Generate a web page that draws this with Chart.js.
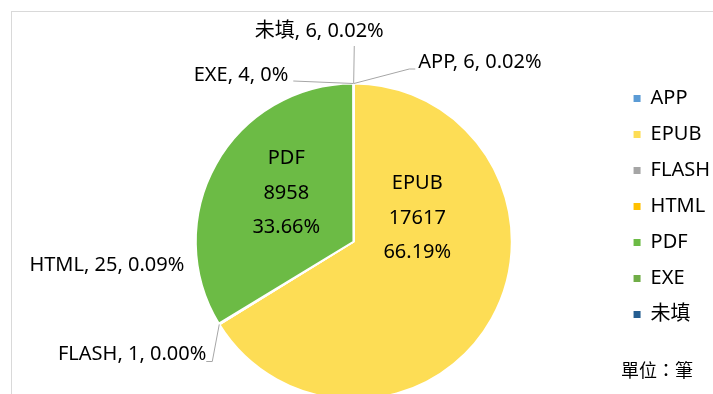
<!DOCTYPE html>
<html>
<head>
<meta charset="utf-8">
<script src="https://cdn.jsdelivr.net/npm/chart.js@4.4.0/dist/chart.umd.min.js"></script>
<style>
  html, body { margin: 0; padding: 0; background: #fff; overflow: hidden; }
  #contenedor { position: relative; width: 713px; height: 394px; overflow: hidden; }
  #marco { position: absolute; left: 11px; top: 11px; width: 760px; height: 450px; border: 1px solid #d9d9d9; }
  #grafica { position: absolute; left: 0; top: 0; }
</style>
</head>
<body>
<div id="contenedor">
  <div id="marco"></div>
  <canvas id="grafica" width="713" height="420"></canvas>
</div>
<script>
// Datos: formatos de archivo
const categorias = ["APP", "EPUB", "FLASH", "HTML", "PDF", "EXE", "未填"];
const cantidades = [6, 17617, 1, 25, 8958, 4, 6];
const porcentajes = ["0.02%", "66.19%", "0.00%", "0.09%", "33.66%", "0%", "0.02%"];
const unidad = "單位：筆";

const colores = ["#5b9bd5", "#fddd55", "#a5a5a5", "#ffc000", "#6cbb45", "#70ad47", "#255e91"];
const fuente = "'Noto Sans', 'Noto Sans CJK TC', sans-serif";

// Ubicación de cada etiqueta respecto al centro del pastel (px)
const ubicaciones = [
  { dx: 64.5, dy: -179, align: "left", guia: [[55.5, -172.5], [61.5, -172.5]] },
  { dentro: true, dx: 63.5, dy: -23.5 },
  { dx: -147.5, dy: 113, align: "right", guia: [[-141.5, 120], [-147.5, 120]] },
  { dx: -169.5, dy: 23.5, align: "right" },
  { dentro: true, dx: -67.5, dy: -48.5 },
  { dx: -65.5, dy: -166.5, align: "right", guia: [[-60.5, -160.5]] },
  { dx: -34.5, dy: -210, align: "center", guia: [[0.5, -195.5]] }
];

const etiquetasPlugin = {
  id: "etiquetas",
  afterDatasetsDraw(chart) {
    const ctx = chart.ctx;
    const arcos = chart.getDatasetMeta(0).data;
    ctx.save();
    ctx.font = "20px " + fuente;
    ctx.fillStyle = "#000";
    ctx.textBaseline = "middle";
    arcos.forEach((arco, i) => {
      const { x, y, startAngle, endAngle, outerRadius } =
        arco.getProps(["x", "y", "startAngle", "endAngle", "outerRadius"], true);
      const u = ubicaciones[i];
      if (u.dentro) {
        ctx.textAlign = "center";
        const lineas = [categorias[i], String(cantidades[i]), porcentajes[i]];
        lineas.forEach((t, k) => ctx.fillText(t, x + u.dx, y + u.dy + (k - 1) * 34.5));
        return;
      }
      if (u.guia) {
        const medio = (startAngle + endAngle) / 2;
        ctx.beginPath();
        ctx.moveTo(x + Math.cos(medio) * outerRadius, y + Math.sin(medio) * outerRadius);
        u.guia.forEach(([gx, gy]) => ctx.lineTo(x + gx, y + gy));
        ctx.strokeStyle = "#a6a6a6";
        ctx.lineWidth = 1;
        ctx.stroke();
      }
      ctx.textAlign = u.align;
      ctx.fillText(categorias[i] + ", " + cantidades[i] + ", " + porcentajes[i], x + u.dx, y + u.dy);
    });
    ctx.font = "18px " + fuente;
    ctx.textAlign = "left";
    ctx.fillText(unidad, 621, 372);
    ctx.restore();
  }
};

new Chart(document.getElementById("grafica").getContext("2d"), {
  type: "pie",
  data: {
    labels: categorias,
    datasets: [{
      data: cantidades,
      backgroundColor: colores,
      borderColor: "#ffffff",
      borderWidth: 2,
      radius: 158
    }]
  },
  options: {
    responsive: false,
    animation: false,
    layout: { padding: { left: 90, right: -7, top: 72.5, bottom: 9.5 } },
    plugins: {
      legend: {
        position: "right",
        align: "start",
        labels: {
          boxWidth: 7,
          boxHeight: 7,
          padding: 16,
          color: "#000",
          font: { size: 20, family: fuente },
          // cuadros sin el borde blanco de las porciones
          generateLabels(chart) {
            const items = Chart.overrides.pie.plugins.legend.labels.generateLabels(chart);
            items.forEach(it => { it.lineWidth = 0; it.strokeStyle = it.fillStyle; });
            return items;
          }
        }
      },
      tooltip: { enabled: false }
    }
  },
  plugins: [etiquetasPlugin]
});
</script>
</body>
</html>
